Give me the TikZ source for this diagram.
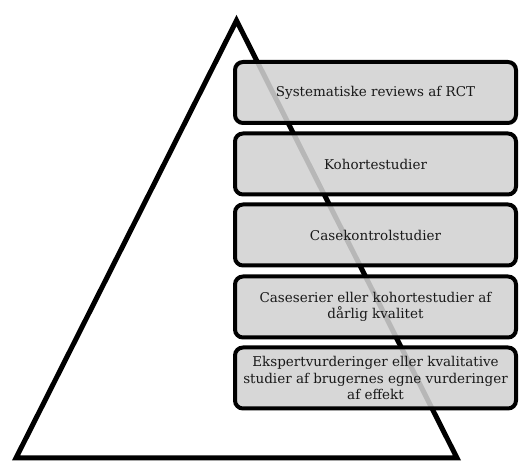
\documentclass[tikz,border=0pt]{standalone}
\usepackage{fontspec}
\setmainfont{DejaVu Serif}
\begin{document}
\begin{tikzpicture}[x=1pt,y=1pt,
  level/.style={draw=black, line width=4pt, rounded corners=8pt, fill={rgb,255:red,209;green,209;blue,209}, fill opacity=0.88, text opacity=1,
    minimum width=281pt, minimum height=61pt, align=center, inner sep=0pt,
    font=\fontsize{13.5}{16.5}\selectfont, text=black!90},
  tri/.style={draw=black, line width=5pt, line join=miter}]
\useasboundingbox (0,0) rectangle (520,463);
\coordinate (apex) at (236.5,442.5);
\coordinate (bl) at (16,5);
\coordinate (br) at (457,5);
\draw[tri] (apex) -- (bl) -- (br) -- cycle;
\node[level] (l1) at (375.5,370.5) {Systematiske reviews af RCT};
\node[level] (l2) at (375.5,299) {Kohortestudier};
\node[level] (l3) at (375.5,228) {Casekontrolstudier};
\node[level] (l4) at (375.5,156) {Caseserier eller kohortestudier af\\dårlig kvalitet};
\node[level] (l5) at (375.5,85) {Ekspertvurderinger eller kvalitative\\studier af brugernes egne vurderinger\\af effekt};
\end{tikzpicture}
\end{document}
